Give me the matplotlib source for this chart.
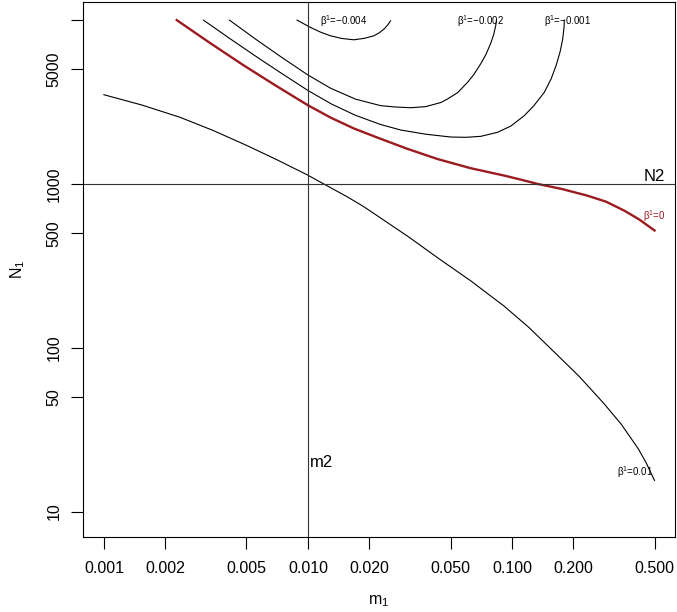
import matplotlib
matplotlib.use("Agg")
import matplotlib.pyplot as plt

plt.rcParams['font.family'] = ['Liberation Sans', 'DejaVu Sans']
plt.rcParams['mathtext.fontset'] = 'custom'
plt.rcParams['mathtext.rm'] = 'Liberation Sans'
plt.rcParams['mathtext.default'] = 'regular'

# beta = 0.01
m_b001 = [0.001, 0.001537, 0.002363, 0.003433, 0.005043, 0.007083, 0.009943, 0.01247, 0.01563,
          0.01874, 0.02271, 0.03118, 0.04329, 0.06288, 0.09135, 0.1212, 0.1608, 0.2134,
          0.2832, 0.3432, 0.4161, 0.4555, 0.5]
N_b001 = [3504, 3031, 2551, 2120, 1712, 1401, 1135, 972, 833,
          728, 620, 475, 354, 256, 180, 133, 94.5, 67.0,
          45.5, 34.2, 24.2, 19.8, 15.5]

# beta = 0 (red)
m_b0 = [0.002276, 0.003319, 0.004819, 0.006925, 0.01, 0.0129, 0.01673, 0.02188, 0.03048, 0.04314,
        0.06288, 0.09168, 0.1107, 0.1338, 0.1761, 0.2355, 0.2897, 0.3563, 0.4208, 0.5]
N_b0 = [10000, 7240, 5316, 3998, 3023, 2544, 2186, 1920, 1644, 1420,
        1247, 1125, 1062, 1000, 931, 847, 779, 686, 607, 520]

# beta = -0.001
m_bm001 = [0.003076, 0.00416, 0.005645, 0.007491, 0.01, 0.01305, 0.01711, 0.02271, 0.02848, 0.0378,
           0.05013, 0.05943, 0.07044, 0.08504, 0.09888, 0.1149, 0.1283, 0.1441, 0.1555, 0.1645,
           0.1721, 0.1774, 0.1801, 0.1807]
N_bm001 = [10000, 7691, 5933, 4699, 3721, 3075, 2624, 2306, 2135, 2012,
           1934, 1926, 1953, 2067, 2258, 2609, 3011, 3624, 4368, 5264,
           6381, 7657, 9065, 10000]

# beta = -0.002
m_bm002 = [0.004126, 0.005521, 0.007407, 0.01, 0.0129, 0.01711, 0.02271, 0.02692, 0.03189, 0.0378,
           0.04478, 0.04831, 0.05428, 0.06058, 0.06506, 0.07044, 0.07452, 0.0788, 0.08151, 0.08339,
           0.08395]
N_bm002 = [10000, 7680, 5949, 4626, 3843, 3294, 3006, 2948, 2919, 2965,
           3140, 3298, 3614, 4171, 4653, 5430, 6161, 7240, 8214, 9322,
           10000]

# beta = -0.004
m_bm004 = [0.008849, 0.01029, 0.01152, 0.0129, 0.01461, 0.01679, 0.01895, 0.02105, 0.02233,
           0.02358, 0.02459, 0.02543]
N_bm004 = [10000, 9026, 8451, 8023, 7733, 7583, 7745, 8023, 8356, 8812, 9322, 9902]

x_ticks = [0.001, 0.002, 0.005, 0.01, 0.02, 0.05, 0.1, 0.2, 0.5]
x_labels = ["0.001", "0.002", "0.005", "0.010", "0.020", "0.050", "0.100", "0.200", "0.500"]
y_ticks = [10, 50, 100, 500, 1000, 5000, 10000]
y_labels = ["10", "50", "100", "500", "1000", "5000", ""]

m2 = 0.01
N2 = 1000

fig = plt.figure(figsize=(6.77, 6.12), dpi=100)
ax = fig.add_axes([83/677, 1-537/612, (675-83)/677, (537-2)/612])
ax.set_xscale('log')
ax.set_yscale('log')
ax.set_xlim(0.00079, 0.63)
ax.set_ylim(7.0, 12900)

red = '#9B1B1E'
ax.plot(m_b001, N_b001, color='black', lw=0.8)
ax.plot(m_bm001, N_bm001, color='black', lw=0.8)
ax.plot(m_bm002, N_bm002, color='black', lw=0.8)
ax.plot(m_bm004, N_bm004, color='black', lw=0.8)
ax.plot(m_b0, N_b0, color=red, lw=1.7)

ax.axvline(m2, color='#333333', lw=0.8)
ax.axhline(N2, color='#333333', lw=0.8)

ax.text(0.0102, 20, "m2", fontsize=12, ha='left', va='center')
ax.text(0.5, 1115, "N2", fontsize=12, ha='center', va='center')

lab_fs = 7
ax.text(0.0149, 9800, "β$^{1}$=−0.004", fontsize=lab_fs, ha='center', va='center')
ax.text(0.0705, 9800, "β$^{1}$=−0.002", fontsize=lab_fs, ha='center', va='center')
ax.text(0.188, 9800, "β$^{1}$=−0.001", fontsize=lab_fs, ha='center', va='center')
ax.text(0.5, 640, "β$^{1}$=0", fontsize=lab_fs, ha='center', va='center', color=red)
ax.text(0.40, 17.5, "β$^{1}$=0.01", fontsize=lab_fs, ha='center', va='center')

ax.set_xticks(x_ticks)
ax.set_xticklabels(x_labels)
ax.set_yticks(y_ticks)
ax.set_yticklabels(y_labels, rotation=90, va='center')
ax.minorticks_off()
ax.tick_params(axis='x', direction='out', length=8.5, width=0.8, labelsize=11.5, pad=9)
ax.tick_params(axis='y', direction='out', length=8.5, width=0.8, labelsize=11.5, pad=7)
for s in ax.spines.values():
    s.set_linewidth(0.8)

ax.set_xlabel("m$_{1}$", fontsize=11.5, labelpad=12)
ax.set_ylabel("N$_{1}$", fontsize=11.5, labelpad=14)

fig.savefig("out.png", dpi=100)
